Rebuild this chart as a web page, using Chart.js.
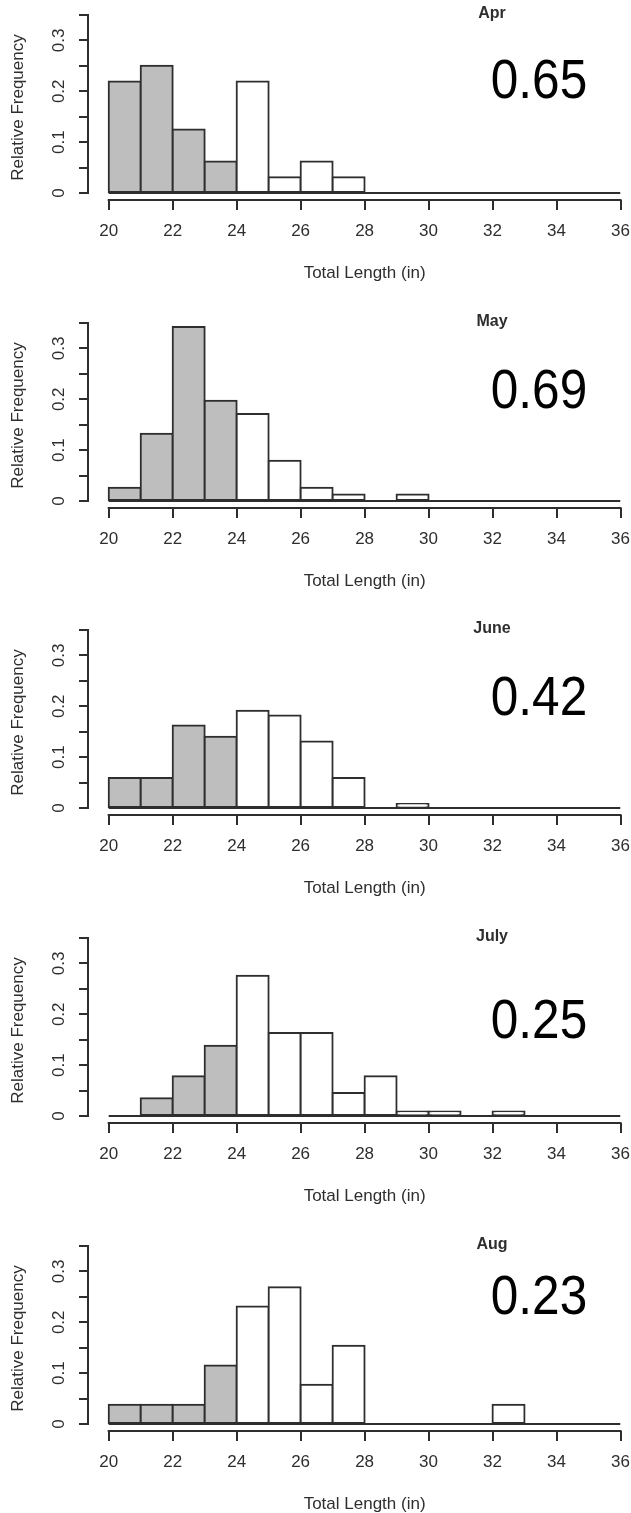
<!DOCTYPE html>
<html>
<head>
<meta charset="utf-8">
<title>Total length by month</title>
<script src="https://cdn.jsdelivr.net/npm/chart.js@4.4.1/dist/chart.umd.min.js"></script>
<style>
    html, body { margin: 0; padding: 0; background: #fff; overflow: hidden; }
    #page { position: relative; width: 631px; height: 1513px; overflow: hidden; }
    .panel { position: absolute; left: 0; width: 631px; height: 300px; }
</style>
</head>
<body>
<div id="page"></div>
<script>
// histogram bins (inches), one bar per 1-inch bin
const binEdges = [20, 21, 22, 23, 24, 25, 26, 27, 28, 29, 30, 31, 32, 33, 34, 35, 36];
const shadedBelow = 24; // bins under 24 in are filled grey

const months = ['Apr', 'May', 'June', 'July', 'Aug'];
const proportions = ['0.65', '0.69', '0.42', '0.25', '0.23'];

// relative frequency per bin
const aprFreq  = [0.219, 0.250, 0.125, 0.062, 0.219, 0.031, 0.062, 0.031, 0, 0, 0, 0, 0, 0, 0, 0];
const mayFreq  = [0.026, 0.132, 0.342, 0.197, 0.171, 0.079, 0.026, 0.013, 0, 0.013, 0, 0, 0, 0, 0, 0];
const juneFreq = [0.059, 0.059, 0.162, 0.140, 0.191, 0.182, 0.131, 0.059, 0, 0.008, 0, 0, 0, 0, 0, 0];
const julyFreq = [0, 0.035, 0.078, 0.138, 0.276, 0.163, 0.163, 0.045, 0.078, 0.009, 0.009, 0, 0.009, 0, 0, 0];
const augFreq  = [0.038, 0.038, 0.038, 0.115, 0.231, 0.269, 0.077, 0.154, 0, 0, 0, 0, 0.038, 0, 0, 0];
const monthFreq = [aprFreq, mayFreq, juneFreq, julyFreq, augFreq];

const xTicks = [20, 22, 24, 26, 28, 30, 32, 34, 36];
const yTicks = [0, 0.05, 0.1, 0.15, 0.2, 0.25, 0.3, 0.35];
const yTickLabels = ['0', '', '0.1', '', '0.2', '', '0.3', ''];

// page layout
const panelTops = [0, 308, 615, 923, 1231];
const numberY = [83, 85, 85, 100, 68];

const ink = '#2e2e2e';
const grey = '#bebebe';
const lw = 2;
const fontFamily = '"Liberation Sans", Arial, Helvetica, sans-serif';

Chart.defaults.font.family = fontFamily;
Chart.defaults.color = ink;

// R-like detached axis lines plus the panel texts
const rStyle = {
    id: 'rStyle',
    afterDraw(chart, args, opts) {
        const ctx = chart.ctx;
        const x = chart.scales.x;
        const y = chart.scales.y;
        ctx.save();
        ctx.strokeStyle = ink;
        ctx.lineWidth = lw;
        ctx.beginPath();
        ctx.moveTo(x.getPixelForValue(xTicks[0]) - lw / 2, x.top);
        ctx.lineTo(x.getPixelForValue(xTicks[xTicks.length - 1]) + lw / 2, x.top);
        ctx.moveTo(y.right, y.getPixelForValue(yTicks[0]) + lw / 2);
        ctx.lineTo(y.right, y.getPixelForValue(yTicks[yTicks.length - 1]) - lw / 2);
        ctx.stroke();

        ctx.fillStyle = ink;
        ctx.textAlign = 'center';
        ctx.textBaseline = 'middle';
        ctx.font = '17px ' + fontFamily;
        const mid = (x.getPixelForValue(xTicks[0]) + x.getPixelForValue(xTicks[xTicks.length - 1])) / 2;
        ctx.fillText('Total Length (in)', mid, 273);

        ctx.font = 'bold 16px ' + fontFamily;
        ctx.fillText(opts.month, 492, 14);

        // big proportion label, slightly narrowed like the original
        ctx.fillStyle = '#000';
        ctx.font = '55px ' + fontFamily;
        ctx.translate(539, opts.numberY);
        ctx.scale(0.9, 1);
        ctx.fillText(opts.proportion, 0, 0);
        ctx.restore();
    }
};

const page = document.getElementById('page');

months.forEach(function(month, m) {
    const div = document.createElement('div');
    div.className = 'panel';
    div.style.top = panelTops[m] + 'px';
    const canvas = document.createElement('canvas');
    canvas.width = 631;
    canvas.height = 300;
    div.appendChild(canvas);
    page.appendChild(div);

    const freq = monthFreq[m];
    const bars = freq.map((v, i) => ({ x: (binEdges[i] + binEdges[i + 1]) / 2, y: v }));
    const fills = freq.map((v, i) => binEdges[i] < shadedBelow ? grey : '#ffffff');

    new Chart(canvas, {
        type: 'bar',
        data: {
            datasets: [{
                type: 'line',
                data: [{ x: binEdges[0], y: 0 }, { x: binEdges[binEdges.length - 1], y: 0 }],
                borderColor: ink,
                borderWidth: lw,
                pointRadius: 0,
                order: 0
            }, {
                data: bars,
                backgroundColor: fills,
                borderColor: ink,
                borderWidth: lw,
                borderSkipped: false,
                inflateAmount: lw / 2, // centre the border on the bin edge like a stroke
                barPercentage: 1,
                categoryPercentage: 1,
                order: 1
            }]
        },
        options: {
            responsive: false,
            animation: false,
            devicePixelRatio: 1,
            events: [],
            layout: { padding: { top: 15, right: 10.5, bottom: 0, left: 0 } },
            plugins: {
                legend: { display: false },
                tooltip: { enabled: false },
                rStyle: { month: month, proportion: proportions[m], numberY: numberY[m] }
            },
            scales: {
                x: {
                    type: 'linear',
                    offset: false,
                    min: 19.353,
                    max: 36,
                    afterBuildTicks: s => { s.ticks = xTicks.map(v => ({ value: v })); },
                    afterFit: s => { s.height = 100; s.paddingLeft = 0; s.paddingRight = 0; },
                    border: { display: false },
                    grid: { offset: false, drawOnChartArea: false, drawTicks: true, tickLength: 10, color: ink, lineWidth: lw },
                    ticks: { padding: 11, autoSkip: false, maxRotation: 0, minRotation: 0, color: ink, font: { size: 17 } }
                },
                y: {
                    type: 'linear',
                    min: -0.01376,
                    max: 0.35,
                    afterBuildTicks: s => { s.ticks = yTicks.map(v => ({ value: v })); },
                    afterFit: s => { s.width = 88; s.paddingTop = 0; s.paddingBottom = 0; },
                    border: { display: false },
                    grid: { drawOnChartArea: false, drawTicks: true, tickLength: 9, color: ink, lineWidth: lw },
                    ticks: {
                        padding: 7.6,
                        crossAlign: 'center',
                        minRotation: 90,
                        maxRotation: 90,
                        autoSkip: false,
                        color: ink,
                        font: { size: 17 },
                        callback: (v, i) => yTickLabels[i]
                    },
                    title: {
                        display: true,
                        text: 'Relative Frequency',
                        color: ink,
                        font: { size: 17 },
                        padding: { top: 7.8, bottom: 0 }
                    }
                }
            }
        },
        plugins: [rStyle]
    });
});
</script>
</body>
</html>
